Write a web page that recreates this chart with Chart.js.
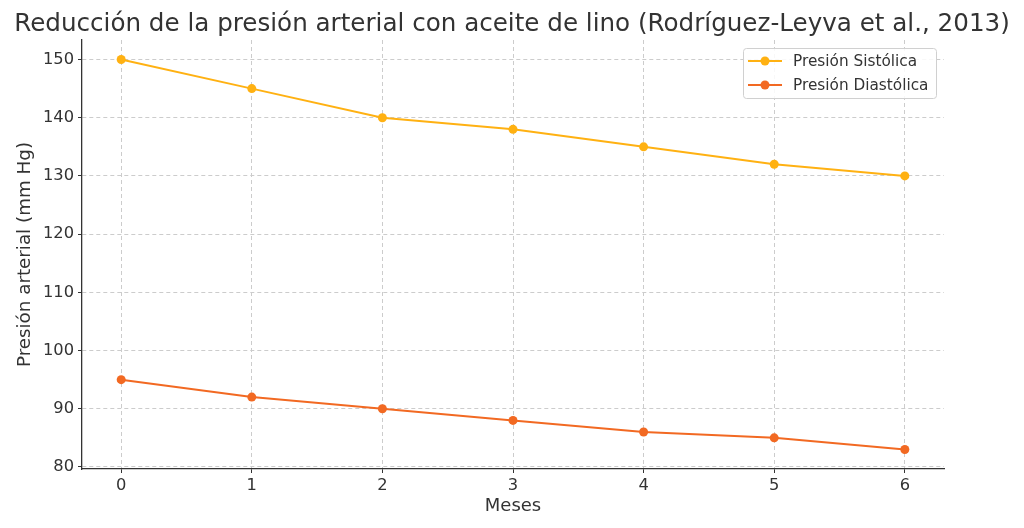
<!DOCTYPE html>
<html>
<head>
<meta charset="utf-8">
<script src="https://cdn.jsdelivr.net/npm/chart.js@4/dist/chart.umd.min.js"></script>
<style>
  html, body { margin: 0; padding: 0; background: #ffffff; }
  #wrap { width: 1024px; height: 528px; }
</style>
</head>
<body>
<div id="wrap"><canvas id="bp-chart" width="1024" height="528"></canvas></div>
<script>
// Blood pressure over 6 months with flaxseed oil
const months = [0, 1, 2, 3, 4, 5, 6];
const systolic = [150, 145, 140, 138, 135, 132, 130];
const diastolic = [95, 92, 90, 88, 86, 85, 83];
const yTicks = [80, 90, 100, 110, 120, 130, 140, 150];
const chartTitle = 'Reducción de la presión arterial con aceite de lino (Rodríguez-Leyva et al., 2013)';

const SYS_COLOR = '#FFB112';
const DIA_COLOR = '#F26922';
const FONT = "'DejaVu Sans', sans-serif";

// Title centred over the whole canvas (layout padding would shift Chart.js's own title)
const canvasTitle = {
    id: 'canvasTitle',
    afterDraw(chart) {
        const ctx = chart.ctx;
        ctx.save();
        ctx.fillStyle = '#333333';
        ctx.font = '24.6px ' + FONT;
        ctx.textAlign = 'center';
        ctx.textBaseline = 'alphabetic';
        ctx.fillText(chartTitle, 512, 31);
        ctx.restore();
    }
};

// Legend box drawn inside the plot, upper right like the original
const insideLegend = {
    id: 'insideLegend',
    afterDraw(chart) {
        const ctx = chart.ctx;
        const x = 743, y = 48, w = 193, h = 50;
        ctx.save();
        ctx.fillStyle = 'rgba(255,255,255,0.85)';
        ctx.strokeStyle = '#d0d0d0';
        ctx.lineWidth = 1;
        ctx.beginPath();
        ctx.roundRect(x + 0.5, y + 0.5, w, h, 3);
        ctx.fill();
        ctx.stroke();
        chart.data.datasets.forEach((ds, i) => {
            const cy = y + 13 + i * 24;
            ctx.strokeStyle = ds.borderColor;
            ctx.lineWidth = 2;
            ctx.beginPath();
            ctx.moveTo(748, cy);
            ctx.lineTo(782, cy);
            ctx.stroke();
            ctx.fillStyle = ds.borderColor;
            ctx.beginPath();
            ctx.arc(765, cy, 4.5, 0, Math.PI * 2);
            ctx.fill();
            ctx.fillStyle = '#333333';
            ctx.font = '15.3px ' + FONT;
            ctx.textBaseline = 'middle';
            ctx.fillText(ds.label, 793, cy + 1);
        });
        ctx.restore();
    }
};

function buildChart() {
    const ctx = document.getElementById('bp-chart').getContext('2d');

    new Chart(ctx, {
        type: 'line',
        data: {
            datasets: [
                {
                    label: 'Presión Sistólica',
                    data: months.map((m, i) => ({ x: m, y: systolic[i] })),
                    borderColor: SYS_COLOR,
                    backgroundColor: SYS_COLOR,
                    borderWidth: 2,
                    pointRadius: 4.5,
                    pointBackgroundColor: SYS_COLOR,
                    pointBorderWidth: 0,
                    tension: 0
                },
                {
                    label: 'Presión Diastólica',
                    data: months.map((m, i) => ({ x: m, y: diastolic[i] })),
                    borderColor: DIA_COLOR,
                    backgroundColor: DIA_COLOR,
                    borderWidth: 2,
                    pointRadius: 4.5,
                    pointBackgroundColor: DIA_COLOR,
                    pointBorderWidth: 0,
                    tension: 0
                }
            ]
        },
        options: {
            responsive: false,
            animation: false,
            layout: { padding: { left: 0, right: 80, top: 40, bottom: 0 } },
            plugins: {
                legend: { display: false },
                tooltip: { enabled: false },
                title: { display: false }
            },
            scales: {
                x: {
                    type: 'linear',
                    min: -0.3,
                    max: 6.3,
                    afterBuildTicks(scale) {
                        scale.ticks = months.map(v => ({ value: v }));
                    },
                    afterFit(scale) { scale.height = 59; },
                    grid: {
                        color: '#cccccc',
                        tickLength: 4,
                        tickColor: '#333333',
                        tickBorderDash: []
                    },
                    border: { color: '#333333', width: 1.3, dash: [4, 3] },
                    ticks: {
                        color: '#333333',
                        padding: 3,
                        font: { family: FONT, size: 16.3 },
                        maxRotation: 0
                    },
                    title: {
                        display: true,
                        text: 'Meses',
                        color: '#333333',
                        font: { family: FONT, size: 18 },
                        padding: { top: 0, bottom: 11 }
                    }
                },
                y: {
                    min: 79.65,
                    max: 153.35,
                    afterBuildTicks(scale) {
                        scale.ticks = yTicks.map(v => ({ value: v }));
                    },
                    afterFit(scale) { scale.width = 82; },
                    grid: {
                        color: '#cccccc',
                        tickLength: 4,
                        tickColor: '#333333',
                        tickBorderDash: []
                    },
                    border: { color: '#333333', width: 1.3, dash: [4, 3] },
                    ticks: {
                        color: '#333333',
                        padding: 4,
                        font: { family: FONT, size: 16.3 }
                    },
                    title: {
                        display: true,
                        text: 'Presión arterial (mm Hg)',
                        color: '#333333',
                        font: { family: FONT, size: 18.3 },
                        padding: { top: 14, bottom: 0 }
                    }
                }
            }
        },
        plugins: [canvasTitle, insideLegend]
    });
}

document.addEventListener('DOMContentLoaded', buildChart);
</script>
</body>
</html>
